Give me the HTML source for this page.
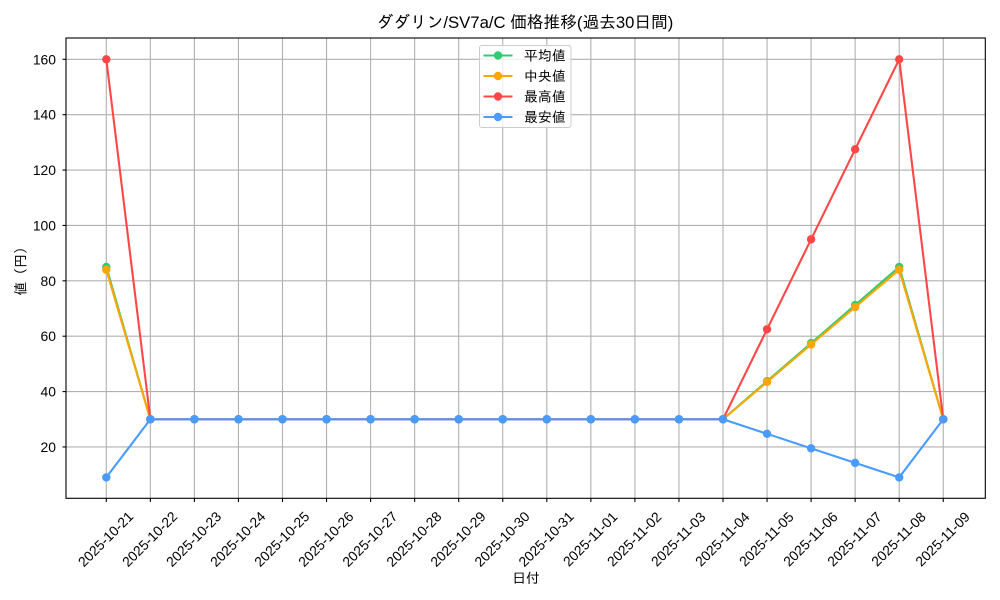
<!DOCTYPE html>
<html>
<head>
<meta charset="utf-8">
<style>
html,body{margin:0;padding:0;background:#fff;}
svg{display:block;}
text{font-family:"Liberation Sans","IPAGothic",sans-serif;fill:#000;}
</style>
</head>
<body>
<svg width="1000" height="600" viewBox="0 0 1000 600" xmlns="http://www.w3.org/2000/svg">
<defs>
<marker id="mg" markerUnits="userSpaceOnUse" markerWidth="10" markerHeight="10" refX="5" refY="5" overflow="visible"><circle cx="5" cy="5" r="4.2" fill="#2ecc71"/></marker>
<marker id="mo" markerUnits="userSpaceOnUse" markerWidth="10" markerHeight="10" refX="5" refY="5" overflow="visible"><circle cx="5" cy="5" r="4.2" fill="#ffa500"/></marker>
<marker id="mr" markerUnits="userSpaceOnUse" markerWidth="10" markerHeight="10" refX="5" refY="5" overflow="visible"><circle cx="5" cy="5" r="4.2" fill="#ff4747"/></marker>
<marker id="mb" markerUnits="userSpaceOnUse" markerWidth="10" markerHeight="10" refX="5" refY="5" overflow="visible"><circle cx="5" cy="5" r="4.2" fill="#4a9bff"/></marker>
</defs>
<rect width="1000" height="600" fill="#fff"/>

<!-- grid -->
<g stroke="#b0b0b0" stroke-width="1.1">
<line x1="106.3" y1="38" x2="106.3" y2="498.3"/>
<line x1="150.35" y1="38" x2="150.35" y2="498.3"/>
<line x1="194.4" y1="38" x2="194.4" y2="498.3"/>
<line x1="238.45" y1="38" x2="238.45" y2="498.3"/>
<line x1="282.5" y1="38" x2="282.5" y2="498.3"/>
<line x1="326.55" y1="38" x2="326.55" y2="498.3"/>
<line x1="370.6" y1="38" x2="370.6" y2="498.3"/>
<line x1="414.65" y1="38" x2="414.65" y2="498.3"/>
<line x1="458.7" y1="38" x2="458.7" y2="498.3"/>
<line x1="502.75" y1="38" x2="502.75" y2="498.3"/>
<line x1="546.8" y1="38" x2="546.8" y2="498.3"/>
<line x1="590.85" y1="38" x2="590.85" y2="498.3"/>
<line x1="634.9" y1="38" x2="634.9" y2="498.3"/>
<line x1="678.95" y1="38" x2="678.95" y2="498.3"/>
<line x1="723" y1="38" x2="723" y2="498.3"/>
<line x1="767.05" y1="38" x2="767.05" y2="498.3"/>
<line x1="811.1" y1="38" x2="811.1" y2="498.3"/>
<line x1="855.15" y1="38" x2="855.15" y2="498.3"/>
<line x1="899.2" y1="38" x2="899.2" y2="498.3"/>
<line x1="943.25" y1="38" x2="943.25" y2="498.3"/>
<line x1="66" y1="59.3" x2="985.3" y2="59.3"/>
<line x1="66" y1="114.68" x2="985.3" y2="114.68"/>
<line x1="66" y1="170.06" x2="985.3" y2="170.06"/>
<line x1="66" y1="225.44" x2="985.3" y2="225.44"/>
<line x1="66" y1="280.82" x2="985.3" y2="280.82"/>
<line x1="66" y1="336.2" x2="985.3" y2="336.2"/>
<line x1="66" y1="391.58" x2="985.3" y2="391.58"/>
<line x1="66" y1="446.96" x2="985.3" y2="446.96"/>
</g>

<!-- ticks -->
<g stroke="#000" stroke-width="1.1">
<line x1="106.3" y1="498.3" x2="106.3" y2="502"/>
<line x1="150.35" y1="498.3" x2="150.35" y2="502"/>
<line x1="194.4" y1="498.3" x2="194.4" y2="502"/>
<line x1="238.45" y1="498.3" x2="238.45" y2="502"/>
<line x1="282.5" y1="498.3" x2="282.5" y2="502"/>
<line x1="326.55" y1="498.3" x2="326.55" y2="502"/>
<line x1="370.6" y1="498.3" x2="370.6" y2="502"/>
<line x1="414.65" y1="498.3" x2="414.65" y2="502"/>
<line x1="458.7" y1="498.3" x2="458.7" y2="502"/>
<line x1="502.75" y1="498.3" x2="502.75" y2="502"/>
<line x1="546.8" y1="498.3" x2="546.8" y2="502"/>
<line x1="590.85" y1="498.3" x2="590.85" y2="502"/>
<line x1="634.9" y1="498.3" x2="634.9" y2="502"/>
<line x1="678.95" y1="498.3" x2="678.95" y2="502"/>
<line x1="723" y1="498.3" x2="723" y2="502"/>
<line x1="767.05" y1="498.3" x2="767.05" y2="502"/>
<line x1="811.1" y1="498.3" x2="811.1" y2="502"/>
<line x1="855.15" y1="498.3" x2="855.15" y2="502"/>
<line x1="899.2" y1="498.3" x2="899.2" y2="502"/>
<line x1="943.25" y1="498.3" x2="943.25" y2="502"/>
<line x1="62.5" y1="59.3" x2="66" y2="59.3"/>
<line x1="62.5" y1="114.68" x2="66" y2="114.68"/>
<line x1="62.5" y1="170.06" x2="66" y2="170.06"/>
<line x1="62.5" y1="225.44" x2="66" y2="225.44"/>
<line x1="62.5" y1="280.82" x2="66" y2="280.82"/>
<line x1="62.5" y1="336.2" x2="66" y2="336.2"/>
<line x1="62.5" y1="391.58" x2="66" y2="391.58"/>
<line x1="62.5" y1="446.96" x2="66" y2="446.96"/>
</g>

<!-- series -->
<g fill="none" stroke-width="2.1" stroke-linejoin="round">
<polyline stroke="#2ecc71" marker-start="url(#mg)" marker-mid="url(#mg)" marker-end="url(#mg)" points="106.3,266.97 150.35,419.27 194.4,419.27 238.45,419.27 282.5,419.27 326.55,419.27 370.6,419.27 414.65,419.27 458.7,419.27 502.75,419.27 546.8,419.27 590.85,419.27 634.9,419.27 678.95,419.27 723,419.27 767.05,381.2 811.1,343.12 855.15,305.05 899.2,266.97 943.25,419.27"/>
<polyline stroke="#ffa500" marker-start="url(#mo)" marker-mid="url(#mo)" marker-end="url(#mo)" points="106.3,269.74 150.35,419.27 194.4,419.27 238.45,419.27 282.5,419.27 326.55,419.27 370.6,419.27 414.65,419.27 458.7,419.27 502.75,419.27 546.8,419.27 590.85,419.27 634.9,419.27 678.95,419.27 723,419.27 767.05,381.89 811.1,344.51 855.15,307.13 899.2,269.74 943.25,419.27"/>
<polyline stroke="#ff4747" marker-start="url(#mr)" marker-mid="url(#mr)" marker-end="url(#mr)" points="106.3,59.3 150.35,419.27 194.4,419.27 238.45,419.27 282.5,419.27 326.55,419.27 370.6,419.27 414.65,419.27 458.7,419.27 502.75,419.27 546.8,419.27 590.85,419.27 634.9,419.27 678.95,419.27 723,419.27 767.05,329.28 811.1,239.28 855.15,149.29 899.2,59.3 943.25,419.27"/>
<polyline stroke="#4a9bff" marker-start="url(#mb)" marker-mid="url(#mb)" marker-end="url(#mb)" points="106.3,477.42 150.35,419.27 194.4,419.27 238.45,419.27 282.5,419.27 326.55,419.27 370.6,419.27 414.65,419.27 458.7,419.27 502.75,419.27 546.8,419.27 590.85,419.27 634.9,419.27 678.95,419.27 723,419.27 767.05,433.81 811.1,448.34 855.15,462.88 899.2,477.42 943.25,419.27"/>
</g>

<!-- spines -->
<rect x="66" y="38" width="919.3" height="460.3" fill="none" stroke="#000" stroke-width="1.1"/>

<!-- y tick labels -->
<g font-size="13.9" text-anchor="end" dominant-baseline="central">
<text x="56" y="59.3">160</text>
<text x="56" y="114.68">140</text>
<text x="56" y="170.06">120</text>
<text x="56" y="225.44">100</text>
<text x="56" y="280.82">80</text>
<text x="56" y="336.2">60</text>
<text x="56" y="391.58">40</text>
<text x="56" y="446.96">20</text>
</g>

<!-- x tick labels -->
<g font-size="13.9" text-anchor="middle" dominant-baseline="central">
<text transform="translate(105.5,539) rotate(-45)">2025-10-21</text>
<text transform="translate(149.55,539) rotate(-45)">2025-10-22</text>
<text transform="translate(193.6,539) rotate(-45)">2025-10-23</text>
<text transform="translate(237.65,539) rotate(-45)">2025-10-24</text>
<text transform="translate(281.7,539) rotate(-45)">2025-10-25</text>
<text transform="translate(325.75,539) rotate(-45)">2025-10-26</text>
<text transform="translate(369.8,539) rotate(-45)">2025-10-27</text>
<text transform="translate(413.85,539) rotate(-45)">2025-10-28</text>
<text transform="translate(457.9,539) rotate(-45)">2025-10-29</text>
<text transform="translate(501.95,539) rotate(-45)">2025-10-30</text>
<text transform="translate(546,539) rotate(-45)">2025-10-31</text>
<text transform="translate(590.05,539) rotate(-45)">2025-11-01</text>
<text transform="translate(634.1,539) rotate(-45)">2025-11-02</text>
<text transform="translate(678.15,539) rotate(-45)">2025-11-03</text>
<text transform="translate(722.2,539) rotate(-45)">2025-11-04</text>
<text transform="translate(766.25,539) rotate(-45)">2025-11-05</text>
<text transform="translate(810.3,539) rotate(-45)">2025-11-06</text>
<text transform="translate(854.35,539) rotate(-45)">2025-11-07</text>
<text transform="translate(898.4,539) rotate(-45)">2025-11-08</text>
<text transform="translate(942.45,539) rotate(-45)">2025-11-09</text>
</g>

<!-- axis labels -->
<text x="526" y="578" font-size="13.9" text-anchor="middle" dominant-baseline="central">日付</text>
<text transform="translate(20.5,268) rotate(-90)" font-size="13.9" text-anchor="middle" dominant-baseline="central">値（円）</text>

<!-- title -->
<text x="525" y="22.5" font-size="16.7" text-anchor="middle" dominant-baseline="central">ダダリン/SV7a/C 価格推移(過去30日間)</text>

<!-- legend -->
<rect x="479.5" y="45.5" width="91.5" height="82" rx="2.5" fill="#fff" fill-opacity="0.8" stroke="#cccccc" stroke-width="1"/>
<g stroke-width="2.1">
<line x1="483.5" y1="55.5" x2="512.5" y2="55.5" stroke="#2ecc71"/>
<line x1="483.5" y1="76" x2="512.5" y2="76" stroke="#ffa500"/>
<line x1="483.5" y1="96.5" x2="512.5" y2="96.5" stroke="#ff4747"/>
<line x1="483.5" y1="117" x2="512.5" y2="117" stroke="#4a9bff"/>
</g>
<circle cx="498" cy="55.5" r="4.2" fill="#2ecc71"/>
<circle cx="498" cy="76" r="4.2" fill="#ffa500"/>
<circle cx="498" cy="96.5" r="4.2" fill="#ff4747"/>
<circle cx="498" cy="117" r="4.2" fill="#4a9bff"/>
<g font-size="13.9" dominant-baseline="central">
<text x="524" y="55.5">平均値</text>
<text x="524" y="76">中央値</text>
<text x="524" y="96.5">最高値</text>
<text x="524" y="117">最安値</text>
</g>
</svg>
</body>
</html>
